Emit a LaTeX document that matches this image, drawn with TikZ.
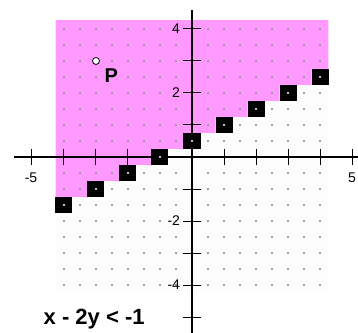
\documentclass[tikz,border=0pt]{standalone}
\usepackage{fontspec}
\setmainfont{Liberation Sans}
\begin{document}
\begin{tikzpicture}[x=32bp,y=32bp,
  axisline/.style={line width=2bp,black},
  tickline/.style={line width=1bp,black},
  ticklabel/.style={inner sep=0pt,font=\fontsize{14bp}{16bp}\selectfont},
  gdot/.style={fill=black!38},
  sqnode/.style={draw=none,fill=black,minimum width=17bp,minimum height=16bp,inner sep=0pt},
  pinkfill/.style={fill={rgb,255:red,255;green,153;blue,255}}]
\useasboundingbox (-6,-5.5) rectangle (5.1875,4.90625);
% plot area
\fill[black!1] (-4.265,-4.22) rectangle (4.265,4.28);
\fill[pinkfill] (-4.265,4.28) -- (-4.265,-1.25) -- (-3.265,-1.25) -- (-3.265,-0.75)
  -- (-2.265,-0.75) -- (-2.265,-0.25) -- (-1.265,-0.25) -- (-1.265,0.25)
  -- (-0.265,0.25) -- (-0.265,0.75) -- (0.735,0.75) -- (0.735,1.25)
  -- (1.735,1.25) -- (1.735,1.75) -- (2.735,1.75) -- (2.735,2.25)
  -- (3.735,2.25) -- (3.735,2.75) -- (4.265,2.75) -- (4.265,4.28) -- cycle;
% grid dots
\foreach \i in {-8,...,8}{
  \foreach \j in {-8,...,8}{
    \fill[gdot] ({\i/2-0.03},{\j/2-0.03}) rectangle ({\i/2+0.03},{\j/2+0.03});
  }
}
% axes
\draw[axisline] (-5.56,0) -- (5.1875,0);
\draw[axisline] (0,4.59) -- (0,-5.5);
\foreach \k in {-5,...,5}{
  \draw[tickline] (\k,-0.25) -- (\k,0.25);
}
\foreach \k in {-5,...,4}{
  \draw[tickline] (-0.27,\k) -- (0.27,\k);
}
% tick labels
\node[ticklabel,anchor=north] (lxm5) at (-5.03,-0.5) {-5};
\node[ticklabel,anchor=north] (lx5) at (5.0,-0.5) {5};
\node[ticklabel,anchor=east] (ly4) at (-0.37,4.0) {4};
\node[ticklabel,anchor=east] (ly2) at (-0.37,2.0) {2};
\node[ticklabel,anchor=east] (lym2) at (-0.37,-2.0) {-2};
\node[ticklabel,anchor=east] (lym4) at (-0.37,-4.0) {-4};
% black squares on the boundary line
\foreach \k in {-4,...,4}{
  \node[sqnode] (s\k) at (\k,{(\k+1)/2}) {};
  \fill[black!25] ({\k-0.03},{(\k+1)/2-0.03}) rectangle ({\k+0.03},{(\k+1)/2+0.03});
}
% point P
\node[circle,draw=black,fill=white,line width=0.8bp,minimum size=7bp,inner sep=0pt] (p) at (-3,3) {};
\node[inner sep=0pt,anchor=base west,font=\fontsize{20bp}{22bp}\selectfont\bfseries] (plabel) at (-2.74,2.32) {P};
% inequality
\node[inner sep=0pt,anchor=base west,font=\fontsize{22bp}{24bp}\selectfont\bfseries] (ineq) at (-4.64,-5.22) {x - 2y < -1};
\end{tikzpicture}
\end{document}
